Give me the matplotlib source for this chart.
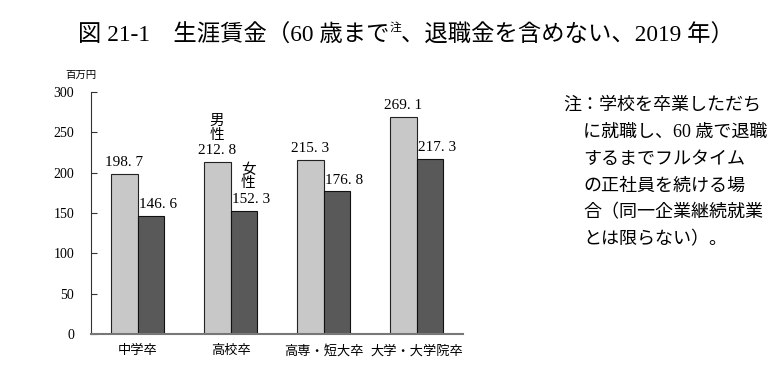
import matplotlib
matplotlib.use("Agg")
import matplotlib.pyplot as plt
import numpy as np

categories = ["中学卒", "高校卒", "高専・短大卒", "大学・大学院卒"]
male = [198.7, 212.8, 215.3, 269.1]
female = [146.6, 152.3, 176.8, 217.3]
yticks = [0, 50, 100, 150, 200, 250, 300]
note_lines = ["注：学校を卒業しただち", "に就職し、60 歳で退職", "するまでフルタイム",
              "の正社員を続ける場", "合（同一企業継続就業", "とは限らない）。"]

FONT = ["Liberation Serif", "Noto Sans CJK JP"]
plt.rcParams["font.family"] = FONT

fig = plt.figure(figsize=(7.74, 3.67), dpi=100)
ax = fig.add_axes([91/774, 1-334/367, (463-91)/774, (334-92)/367])

x = np.arange(len(categories))
w = 0.29
ax.bar(x - w/2, male, w, color="#c8c8c8", edgecolor="#222222", linewidth=0.8, zorder=2)
ax.bar(x + w/2, female, w, color="#595959", edgecolor="#111111", linewidth=0.8, zorder=2)

ax.set_xlim(-0.5, 3.5)
ax.set_ylim(0, 300)
ax.set_yticks(yticks)
ax.set_yticklabels([str(v) for v in yticks], fontsize=10)
ax.tick_params(axis="y", direction="in", length=4, pad=12, color="#333333")
ax.set_xticks(x)
ax.set_xticklabels(categories, fontsize=9.5)
ax.tick_params(axis="x", length=0, pad=8)
for s in ["top", "right"]:
    ax.spines[s].set_visible(False)
ax.spines["left"].set_color("#333333")
ax.spines["bottom"].set_color("#777777")
ax.spines["bottom"].set_linewidth(1.5)

def fmt(v):
    return f"{v:.1f}".replace(".", ". ")

for i in range(len(categories)):
    ax.annotate(fmt(male[i]), (x[i] - w/2, male[i]), xytext=(0, 3.5),
                textcoords="offset points", ha="center", va="bottom", fontsize=11)
    ax.annotate(fmt(female[i]), (x[i] + w/2, female[i]), xytext=(5, 3.5),
                textcoords="offset points", ha="center", va="bottom", fontsize=11)

ax.annotate("男\n性", (x[1] - w/2, male[1]), xytext=(0, 15), textcoords="offset points",
            ha="center", va="bottom", fontsize=10.5, linespacing=1.05)
ax.annotate("女\n性", (x[1] + w/2, female[1]), xytext=(3, 15), textcoords="offset points",
            ha="center", va="bottom", fontsize=10.5, linespacing=1.05)

fig.text(65/774, 1-75/367, "百万円", fontsize=7.5, ha="left", va="center")

# title in pieces for superscript
fig.canvas.draw()
r = fig.canvas.get_renderer()
ty = 1 - 36/367
t1 = fig.text(78/774, ty, "図 21-1　生涯賃金（60 歳まで", fontsize=16.8, ha="left", va="center")
bb = t1.get_window_extent(r)
t2 = fig.text(bb.x1/774, ty + 8/367, "注", fontsize=8.5, ha="left", va="center")
bb2 = t2.get_window_extent(r)
t3 = fig.text(bb2.x1/774, ty, "、退職金を含めない、2019 年）", fontsize=16.8, ha="left", va="center")

for k, line in enumerate(note_lines):
    xx = 563 if k == 0 else 583
    fig.text(xx/774, 1 - (105 + 27*k)/367, line, fontsize=13, ha="left", va="center")

fig.savefig("out.png", dpi=100)
